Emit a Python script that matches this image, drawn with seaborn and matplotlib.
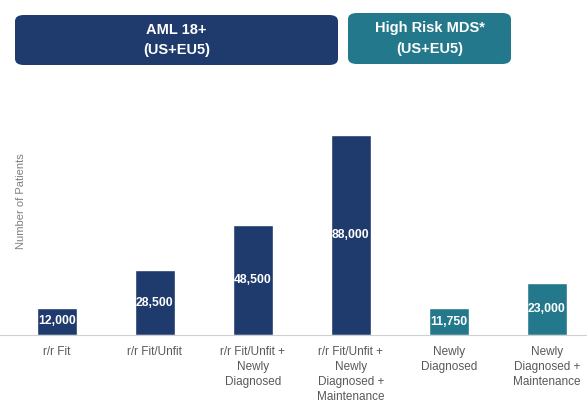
import matplotlib
matplotlib.use("Agg")
import matplotlib.pyplot as plt
import seaborn as sns
import pandas as pd
from matplotlib.patches import FancyBboxPatch

#Datos del grafico
categorias=["r/r Fit", "r/r Fit/Unfit", "r/r Fit/Unfit +\nNewly\nDiagnosed",
            "r/r Fit/Unfit +\nNewly\nDiagnosed +\nMaintenance",
            "Newly\nDiagnosed", "Newly\nDiagnosed +\nMaintenance"]
pacientes=[12000, 28500, 48500, 88000, 11750, 23000]
grupos=["AML", "AML", "AML", "AML", "MDS", "MDS"]
etiquetas=["12,000", "28,500", "48,500", "88,000", "11,750", "23,000"]

NAVY="#1f3a6d"
TEAL="#23798b"

sns.set_style("white")
plt.rcParams["font.family"]=["Liberation Sans", "DejaVu Sans"]

df=pd.DataFrame({"Categoria": categorias, "Pacientes": pacientes, "Grupo": grupos})

fig=plt.figure(figsize=(5.87, 4.11), dpi=100)
ax=fig.add_axes([0.0, 0.185, 1.0, 0.552])
sns.barplot(data=df, x="Categoria", y="Pacientes", hue="Grupo",
            palette={"AML": NAVY, "MDS": TEAL}, dodge=False, width=0.41,
            legend=False, ax=ax, saturation=1)

#Etiquetas de valor dentro de las barras
for bar, txt in zip(ax.patches, etiquetas):
    ax.text(bar.get_x()+bar.get_width()/2, bar.get_height()/2, txt,
            ha="center", va="center", color="white", fontsize=8.8, fontweight="bold")

ax.set_ylim(0, 100000)
ax.set_xlim(-0.58, 5.41)
ax.set_yticks([])
ax.set_xlabel("")
ax.set_ylabel("Number of Patients", color="#7f7f7f", fontsize=8)
ax.yaxis.set_label_coords(0.044, 0.59)
for s in ["top", "right", "left"]:
    ax.spines[s].set_visible(False)
ax.spines["bottom"].set_color("#d0d0d0")
ax.tick_params(axis="x", length=0, pad=8, labelsize=8.5, labelcolor="#595959")
for t in ax.get_xticklabels():
    t.set_linespacing(1.32)

#Encabezados
W, H=587, 411
def caja(x0, y0, x1, y1, color, texto):
    p=FancyBboxPatch((x0/W, 1-y1/H), (x1-x0)/W, (y1-y0)/H,
                     boxstyle="round,pad=0,rounding_size=0.015",
                     transform=fig.transFigure, facecolor=color, edgecolor="none")
    fig.patches.append(p)
    fig.text((x0+x1)/2/W, 1-(y0+y1)/2/H, texto, ha="center", va="center",
             color="white", fontsize=10.5, fontweight="bold", linespacing=1.55)

caja(15, 15, 338, 65, NAVY, "AML 18+\n(US+EU5)")
caja(348, 13, 511, 64, TEAL, "High Risk MDS*\n(US+EU5)")

plt.savefig("out.png", dpi=100)
